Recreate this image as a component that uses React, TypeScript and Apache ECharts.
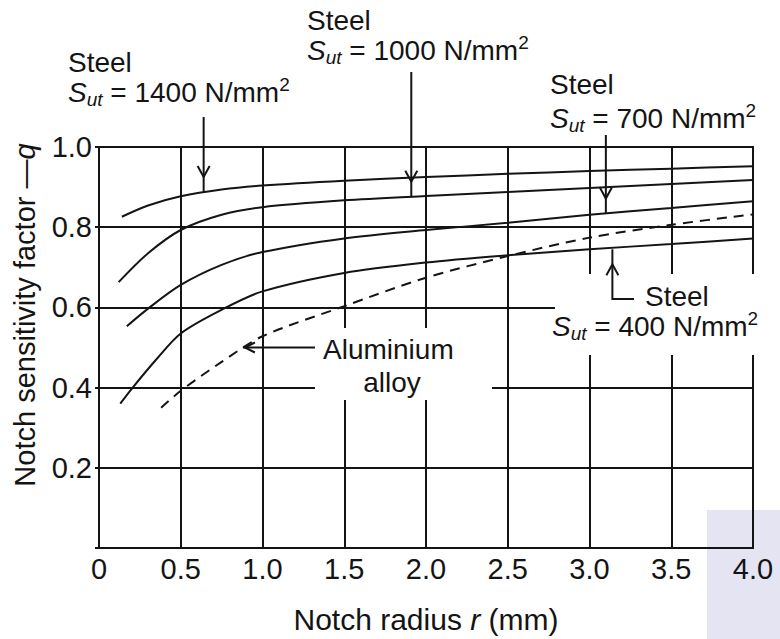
import React, { useEffect, useRef } from "react";
import * as echarts from "echarts";

// ---- data (x = notch radius r in mm, y = notch sensitivity factor q) ----
const steel1400: number[][] = [
  [0.14, 0.826], [0.3, 0.854], [0.5, 0.877], [0.75, 0.894], [1.0, 0.904], [1.5, 0.916],
  [2.0, 0.925], [2.5, 0.933], [3.0, 0.94], [3.5, 0.946], [4.0, 0.952],
];
const steel1000: number[][] = [
  [0.12, 0.663], [0.3, 0.735], [0.5, 0.793], [0.75, 0.831], [1.0, 0.85], [1.5, 0.867],
  [2.0, 0.878], [2.5, 0.888], [3.0, 0.898], [3.5, 0.908], [4.0, 0.918],
];
const steel700: number[][] = [
  [0.17, 0.553], [0.3, 0.597], [0.5, 0.656], [0.75, 0.706], [1.0, 0.738], [1.5, 0.772],
  [2.0, 0.793], [2.5, 0.811], [3.0, 0.831], [3.5, 0.848], [4.0, 0.865],
];
const steel400: number[][] = [
  [0.13, 0.36], [0.2, 0.397], [0.35, 0.47], [0.5, 0.535], [0.75, 0.594], [1.0, 0.64],
  [1.5, 0.686], [2.0, 0.712], [2.5, 0.73], [3.0, 0.745], [3.5, 0.758], [4.0, 0.772],
];
const aluminium: number[][] = [
  [0.38, 0.35], [0.5, 0.392], [0.75, 0.464], [1.0, 0.528], [1.5, 0.603], [2.0, 0.674],
  [2.5, 0.728], [3.0, 0.774], [3.5, 0.806], [4.0, 0.832],
];

const xTickLabels = ["0", "0.5", "1.0", "1.5", "2.0", "2.5", "3.0", "3.5", "4.0"];
const yTickLabels = ["", "0.2", "0.4", "0.6", "0.8", "1.0"];

// annotation arrow tips, on the curves (data coordinates)
const tip1400 = [0.64, 0.888];
const tip1000 = [1.91, 0.876];
const tip700 = [3.1, 0.834];
const tip400 = [3.14, 0.745];
const tipAlu = [0.88, 0.5];

const FONT = "'Liberation Sans', Arial, Helvetica, sans-serif";
const INK = "#141414";

export default function App() {
  const ref = useRef<HTMLDivElement>(null);

  useEffect(() => {
    const chart = echarts.init(ref.current!, null, { renderer: "svg" });

    const lineSeries = (name: string, data: number[][], dashed = false) => ({
      type: "line",
      name,
      data,
      smooth: 0.3,
      showSymbol: false,
      symbol: "none",
      silent: true,
      z: 3,
      lineStyle: { color: INK, width: 2, type: dashed ? [10, 7] : "solid" },
    });

    chart.setOption({
      animation: false,
      backgroundColor: "#ffffff",
      grid: {
        left: 99, right: 27, top: 147, bottom: 89,
        show: true, borderColor: INK, borderWidth: 2, backgroundColor: "transparent",
      },
      xAxis: {
        type: "value", min: 0, max: 4, interval: 0.5,
        axisLine: { show: true, lineStyle: { color: INK, width: 2 } },
        axisTick: { show: false },
        splitLine: { show: true, lineStyle: { color: INK, width: 2 } },
        axisLabel: {
          color: INK, fontSize: 29, fontFamily: FONT, margin: 6,
          formatter: (v: number) => xTickLabels[Math.round(v / 0.5)] ?? "",
        },
        name: "Notch radius {i|r} (mm)",
        nameLocation: "middle",
        nameGap: 56,
        nameTextStyle: {
          color: INK, fontSize: 30, fontFamily: FONT,
          rich: { i: { fontStyle: "italic", fontSize: 30, fontFamily: FONT, color: INK } },
        },
      },
      yAxis: {
        type: "value", min: 0, max: 1, interval: 0.2,
        axisLine: { show: true, lineStyle: { color: INK, width: 2 } },
        axisTick: { show: true, length: 4, lineStyle: { color: INK, width: 2 } },
        splitLine: { show: true, lineStyle: { color: INK, width: 2 } },
        axisLabel: {
          color: INK, fontSize: 29, fontFamily: FONT, margin: 7,
          formatter: (v: number) => yTickLabels[Math.round(v / 0.2)] ?? "",
        },
      },
      series: [
        lineSeries("Steel 1400", steel1400),
        lineSeries("Steel 1000", steel1000),
        lineSeries("Steel 700", steel700),
        lineSeries("Steel 400", steel400),
        lineSeries("Aluminium alloy", aluminium, true),
      ],
    });

    const px = (p: number[]) => chart.convertToPixel({ gridIndex: 0 }, p) as number[];
    const stroke = { stroke: INK, lineWidth: 2, fill: "none" };
    const line = (x1: number, y1: number, x2: number, y2: number) => ({
      type: "line", z: 60, shape: { x1, y1, x2, y2 }, style: { ...stroke },
    });
    const head = (pts: number[][]) => ({
      type: "polyline", z: 60, shape: { points: pts }, style: { ...stroke },
    });
    const rich = {
      it: { fontStyle: "italic", fontSize: 28, lineHeight: 34, fontFamily: FONT, color: INK },
      sub: { fontStyle: "italic", fontSize: 19, lineHeight: 19, verticalAlign: "bottom", fontFamily: FONT, color: INK },
      n: { fontSize: 28, lineHeight: 34, fontFamily: FONT, color: INK },
      sup: { fontSize: 19, lineHeight: 19, verticalAlign: "top", fontFamily: FONT, color: INK },
    };
    const text = (x: number, y: number, t: string, align = "left") => ({
      type: "text", z: 60, x, y,
      style: {
        text: t, rich, fontSize: 28, fontFamily: FONT, fill: INK,
        align, verticalAlign: "middle",
      },
    });
    const sut = (v: number) => `{it|S}{sub|ut}{n| = ${v} N/mm}{sup|2}`;

    const [a1x, a1y] = px(tip1400);
    const [a2x, a2y] = px(tip1000);
    const [a3x, a3y] = px(tip700);
    const [a4x, a4y] = px(tip400);
    const [a5x, a5y] = px(tipAlu);

    chart.setOption({
      graphic: {
        elements: [
          // faint watermark block in the lower-right corner
          { type: "rect", z: -10, shape: { x: 707, y: 510, width: 73, height: 129 }, style: { fill: "#e4e4f3" } },
          // white label boxes interrupting the grid
          { type: "rect", z: 50, shape: { x: 315, y: 328, width: 177, height: 72 }, style: { fill: "#ffffff" } },
          { type: "rect", z: 50, shape: { x: 555, y: 274, width: 225, height: 81 }, style: { fill: "#ffffff" } },

          // Steel 1400
          text(68, 62, "Steel"),
          text(68, 92, sut(1400)),
          line(a1x, 117, a1x, a1y),
          head([[a1x - 6, a1y - 26], [a1x, a1y - 15], [a1x + 6, a1y - 26]]),

          // Steel 1000
          text(307, 20, "Steel"),
          text(307, 50, sut(1000)),
          line(a2x, 72, a2x, a2y),
          head([[a2x - 6, a2y - 26], [a2x, a2y - 15], [a2x + 6, a2y - 26]]),

          // Steel 700
          text(550, 84, "Steel"),
          text(550, 118, sut(700)),
          line(a3x, 135, a3x, a3y),
          head([[a3x - 6, a3y - 26], [a3x, a3y - 15], [a3x + 6, a3y - 26]]),

          // Steel 400
          text(645, 296, "Steel"),
          text(552, 326, sut(400)),
          { type: "polyline", z: 60, shape: { points: [[634, 299], [a4x, 299], [a4x, a4y]] }, style: { ...stroke } },
          head([[a4x - 6, a4y + 26], [a4x, a4y + 15], [a4x + 6, a4y + 26]]),

          // Aluminium alloy
          text(323, 349, "Aluminium"),
          text(392, 382, "alloy", "center"),
          line(315, a5y, a5x, a5y),
          head([[a5x + 12, a5y - 5], [a5x + 2, a5y], [a5x + 12, a5y + 5]]),

          // y-axis title
          {
            type: "text", z: 60, x: 25, y: 315, rotation: Math.PI / 2,
            style: {
              text: "Notch sensitivity factor —{i|q}",
              rich: { i: { fontStyle: "italic", fontSize: 29, fontFamily: FONT, color: INK } },
              fontSize: 29, fontFamily: FONT, fill: INK, align: "center", verticalAlign: "middle",
            },
          },
        ],
      },
    });

    return () => chart.dispose();
  }, []);

  return (
    <div
      ref={ref}
      style={{ position: "fixed", left: 0, top: 0, width: 780, height: 639, background: "#fff" }}
    />
  );
}
